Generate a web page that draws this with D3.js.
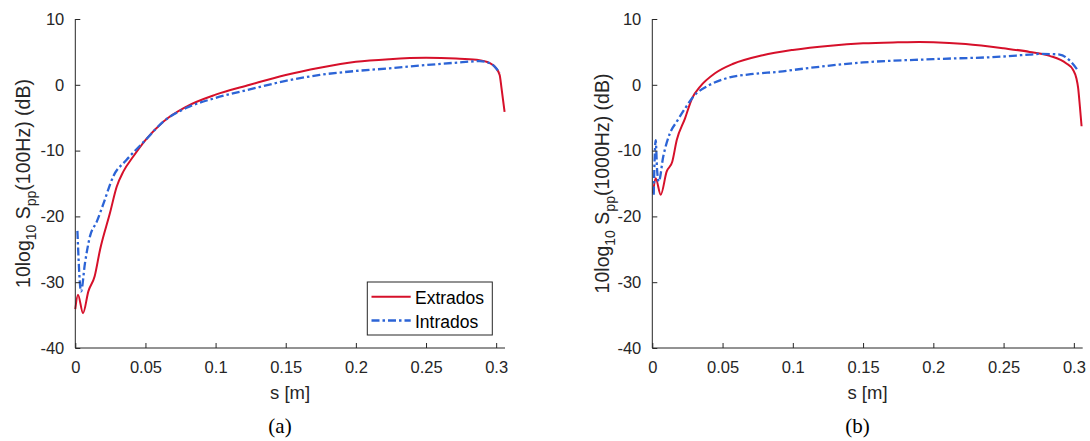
<!DOCTYPE html>
<html>
<head>
<meta charset="utf-8">
<script src="https://cdn.jsdelivr.net/npm/d3@7"></script>
<style>
  html, body { margin: 0; padding: 0; background: #ffffff; }
  svg { display: block; }
</style>
</head>
<body>
<svg id="chart" width="1090" height="441"></svg>
<script>
// ---------- data ----------
const xTicks = [0, 0.05, 0.1, 0.15, 0.2, 0.25, 0.3];
const xTickLabels = ["0", "0.05", "0.1", "0.15", "0.2", "0.25", "0.3"];
const yTicks = [-40, -30, -20, -10, 0, 10];
const yTickLabels = ["-40", "-30", "-20", "-10", "0", "10"];
const seriesNames = ["Extrados", "Intrados"];
const panelCaptions = ["(a)", "(b)"];
const panelFreqs = ["100Hz", "1000Hz"];

// (a) 100 Hz
const sExtradosA = [0, 0.0019, 0.0055, 0.0093, 0.0138, 0.0176, 0.0247, 0.0295, 0.0342, 0.0413, 0.05, 0.0627, 0.0793, 0.1, 0.1244, 0.15, 0.1743, 0.2, 0.2239, 0.25, 0.2714, 0.2859, 0.2954, 0.3, 0.3025, 0.3037, 0.3049, 0.306];
const extradosA  = [-34.1, -31.9, -34.7, -31.4, -29.1, -25.1, -19.5, -15.5, -13.2, -10.9, -8.4, -5.6, -3.3, -1.5, 0.0, 1.5, 2.6, 3.5, 3.9, 4.1, 4.0, 3.8, 3.3, 2.5, 1.5, -0.3, -2.3, -4.1];
const sIntradosA = [0.0015, 0.0041, 0.0069, 0.0105, 0.0153, 0.02, 0.0271, 0.0366, 0.05, 0.0627, 0.0793, 0.1, 0.1244, 0.15, 0.1743, 0.2, 0.2239, 0.25, 0.274, 0.2883, 0.2954, 0.3, 0.3025];
const intradosA  = [-22.2, -31.4, -27.1, -23.0, -20.8, -18.1, -13.9, -11.4, -8.4, -5.6, -3.5, -2.0, -0.7, 0.6, 1.5, 2.1, 2.5, 3.0, 3.4, 3.6, 3.3, 2.5, 1.75];

// (b) 1000 Hz
const sExtradosB = [0.0005, 0.0024, 0.006, 0.0102, 0.0142, 0.0174, 0.0233, 0.0284, 0.0339, 0.0446, 0.0576, 0.0786, 0.1, 0.1268, 0.15, 0.1748, 0.19, 0.2, 0.223, 0.25, 0.2686, 0.2828, 0.2947, 0.2994, 0.3018, 0.303, 0.3043, 0.3055];
const extradosB  = [-16.5, -14.2, -16.7, -13.2, -11.7, -8.4, -5.1, -2.0, -0.3, 1.75, 3.2, 4.5, 5.3, 5.95, 6.3, 6.45, 6.5, 6.47, 6.2, 5.55, 5.0, 4.4, 3.25, 2.3, 1.0, -0.4, -3.3, -6.3];
const sIntradosB = [0.001, 0.0024, 0.0034, 0.0046, 0.0078, 0.0126, 0.0174, 0.0233, 0.0292, 0.041, 0.0529, 0.0718, 0.0908, 0.1, 0.15, 0.2, 0.25, 0.2686, 0.2759, 0.2899, 0.297, 0.303];
const intradosB  = [-16.7, -8.4, -12.9, -14.7, -10.9, -7.35, -5.6, -3.6, -1.8, 0.0, 1.0, 1.65, 2.0, 2.25, 3.4, 3.9, 4.3, 4.6, 4.7, 4.6, 3.7, 2.15];

// ---------- drawing ----------
const svg = d3.select("#chart");
const colors = { Extrados: "#d6102a", Intrados: "#2c64d6" };
const axisColor = "#262626";
const sansFont = "'Liberation Sans', Arial, Helvetica, sans-serif";
const serifFont = "'Liberation Serif', 'Times New Roman', serif";
const dashDot = "8,3,2.5,3";

const panels = [
  { left: 75.3, right: 505, sE: sExtradosA, vE: extradosA, sI: sIntradosA, vI: intradosA, labelX: 30, legend: true },
  { left: 652.3, right: 1082.7, sE: sExtradosB, vE: extradosB, sI: sIntradosB, vI: intradosB, labelX: 609, legend: false }
];
const plotTop = 19, plotBottom = 348;
const xMax = 0.3063;

panels.forEach((p, i) => {
  const x = d3.scaleLinear().domain([0, xMax]).range([p.left, p.right]);
  const y = d3.scaleLinear().domain([-40, 10]).range([plotBottom, plotTop]);
  const g = svg.append("g");

  // curves
  const line = d3.line().x(d => x(d[0])).y(d => y(d[1])).curve(d3.curveMonotoneX);
  const dataE = p.sE.map((s, k) => [s, p.vE[k]]);
  const dataI = p.sI.map((s, k) => [s, p.vI[k]]);
  g.append("path").datum(dataE).attr("d", line)
    .attr("fill", "none").attr("stroke", colors.Extrados).attr("stroke-width", 2)
    .attr("stroke-linejoin", "round");
  g.append("path").datum(dataI).attr("d", line)
    .attr("fill", "none").attr("stroke", colors.Intrados).attr("stroke-width", 2.3)
    .attr("stroke-dasharray", dashDot);

  // x axis (ticks inward)
  const xAxis = d3.axisBottom(x).tickValues(xTicks)
    .tickFormat((d, k) => xTickLabels[k]).tickSizeInner(-5).tickSizeOuter(0).tickPadding(13);
  const gx = g.append("g").attr("transform", `translate(0,${plotBottom})`).call(xAxis);
  gx.select(".domain").attr("stroke", axisColor).attr("d", `M${p.left},0H${p.right}`);
  gx.selectAll(".tick line").attr("stroke", axisColor);
  gx.selectAll(".tick text").attr("fill", axisColor).attr("font-family", sansFont)
    .attr("font-size", 16.5).attr("dy", "0.71em");

  // y axis
  const yAxis = d3.axisLeft(y).tickValues(yTicks)
    .tickFormat((d, k) => yTickLabels[k]).tickSizeInner(-5).tickSizeOuter(0).tickPadding(11);
  const gy = g.append("g").attr("transform", `translate(${p.left},0)`).call(yAxis);
  gy.select(".domain").attr("stroke", axisColor).attr("d", `M0,${plotBottom}V${plotTop}`);
  gy.selectAll(".tick line").attr("stroke", axisColor);
  gy.selectAll(".tick text").attr("fill", axisColor).attr("font-family", sansFont)
    .attr("font-size", 16.5);

  // x label
  g.append("text").attr("x", (p.left + p.right) / 2).attr("y", 399)
    .attr("text-anchor", "middle").attr("font-family", sansFont).attr("font-size", 18.5)
    .attr("fill", axisColor).text("s [m]");

  // y label with subscripts
  const yl = g.append("text")
    .attr("transform", `translate(${p.labelX},${(plotTop + plotBottom) / 2}) rotate(-90)`)
    .attr("text-anchor", "middle").attr("font-family", sansFont).attr("font-size", 19.5)
    .attr("fill", axisColor);
  yl.append("tspan").text("10log");
  yl.append("tspan").attr("font-size", 14).attr("dy", 6).text("10");
  yl.append("tspan").attr("dy", -6).text(" S");
  yl.append("tspan").attr("font-size", 14).attr("dy", 6).text("pp");
  yl.append("tspan").attr("dy", -6).text(`(${panelFreqs[i]}) (dB)`);

  // caption
  g.append("text").attr("x", i === 0 ? 280 : 857.6).attr("y", 433)
    .attr("text-anchor", "middle").attr("font-family", serifFont).attr("font-size", 21)
    .attr("fill", "#000").text(panelCaptions[i]);

  // legend
  if (p.legend) {
    const lg = g.append("g");
    lg.append("rect").attr("x", 367.3).attr("y", 282).attr("width", 125).attr("height", 53)
      .attr("fill", "#fff").attr("stroke", axisColor).attr("stroke-width", 1);
    const rows = [296.7, 320.5];
    seriesNames.forEach((name, k) => {
      lg.append("line").attr("x1", 371.5).attr("x2", 410.7).attr("y1", rows[k]).attr("y2", rows[k])
        .attr("stroke", colors[name]).attr("stroke-width", name === "Intrados" ? 2.3 : 2)
        .attr("stroke-dasharray", name === "Intrados" ? dashDot : null);
      lg.append("text").attr("x", 415).attr("y", rows[k] + 7)
        .attr("font-family", sansFont).attr("font-size", 17.5).attr("fill", "#000").text(name);
    });
  }
});
</script>
</body>
</html>
